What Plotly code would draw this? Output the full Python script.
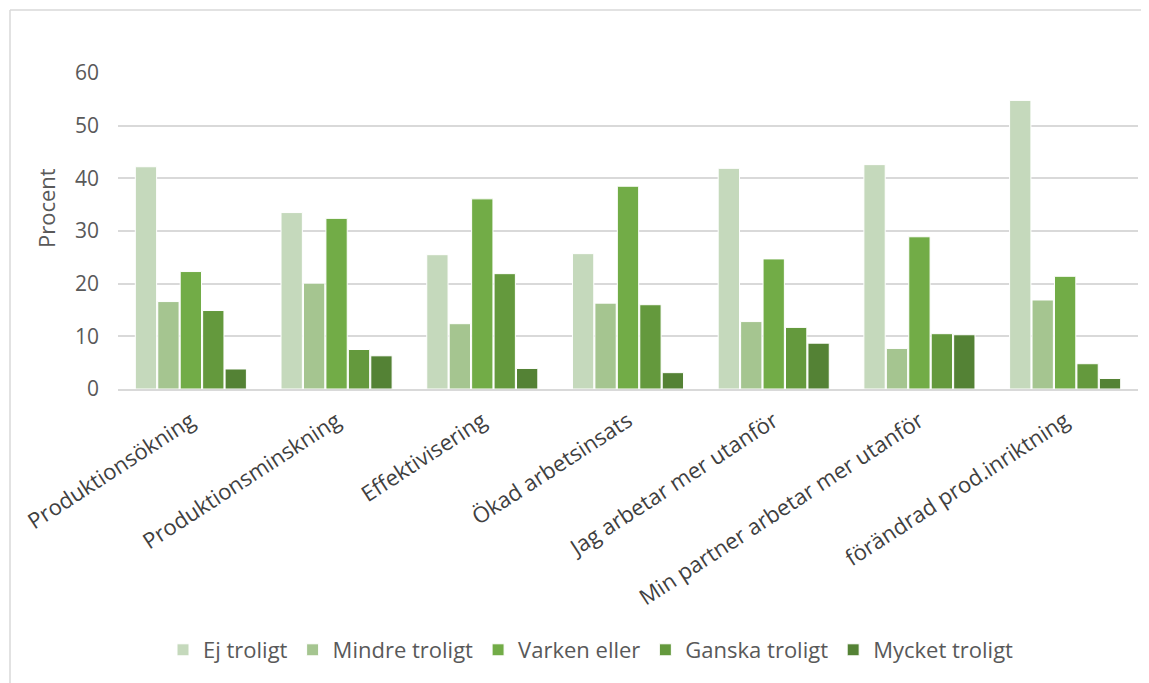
import plotly.graph_objects as go

categories = ["Produktionsökning", "Produktionsminskning", "Effektivisering",
              "Ökad arbetsinsats", "Jag arbetar mer utanför",
              "Min partner arbetar mer utanför", "förändrad prod.inriktning"]
series_names = ["Ej troligt", "Mindre troligt", "Varken eller", "Ganska troligt", "Mycket troligt"]
ej_troligt = [42.2, 33.5, 25.5, 25.7, 41.9, 42.6, 54.8]
mindre_troligt = [16.6, 20.1, 12.4, 16.3, 12.8, 7.7, 16.9]
varken_eller = [22.3, 32.4, 36.1, 38.5, 24.7, 28.9, 21.4]
ganska_troligt = [14.9, 7.5, 21.9, 16.0, 11.7, 10.5, 4.8]
mycket_troligt = [3.8, 6.3, 3.9, 3.1, 8.7, 10.3, 2.0]
colors = ["#C5D9BC", "#A5C590", "#72AC47", "#64993D", "#548235"]
y_ticks = [0, 10, 20, 30, 40, 50, 60]

series_values = [ej_troligt, mindre_troligt, varken_eller, ganska_troligt, mycket_troligt]

font = "Open Sans, sans-serif"

fig = go.Figure()
for name, vals, col in zip(series_names, series_values, colors):
    fig.add_trace(go.Bar(
        x=categories, y=vals, name=name,
        marker=dict(color=col, line=dict(color="white", width=1)),
    ))

# page has an 8px body margin: figure coordinates = reference pixels - 8
OFF = 8
W, H = 1149 - OFF, 683 - OFF
L, T = 118 - OFF, 73 - OFF
PR, PB = 1138 - OFF, 389 - OFF
R, B = W - PR, H - PB
pw, ph = PR - L, PB - T

def px_x(x):
    return (x - OFF - L) / pw

def px_y(y):
    return (PB - (y - OFF)) / ph

fig.update_layout(
    width=W, height=H,
    margin=dict(l=L, r=R, t=T, b=B),
    paper_bgcolor="white", plot_bgcolor="white",
    barmode="group", bargap=0.23, bargroupgap=0.05,
    showlegend=True,
    legend=dict(orientation="h", x=px_x(591), xanchor="center", y=px_y(650), yanchor="middle",
                font=dict(family=font, size=22, color="#595959"),
                itemwidth=30, tracegroupgap=0, traceorder="normal"),
    xaxis=dict(tickangle=-33, tickfont=dict(family=font, size=22, color="#404040"),
               showgrid=False, showline=True, linecolor="#d9d9d9", linewidth=1.5,
               ticks="", fixedrange=True, ticklabelstandoff=9),
    yaxis=dict(range=[0, 60], tickvals=y_ticks, showgrid=True, gridcolor="#d9d9d9", gridwidth=1.5,
               zeroline=False, showline=False,
               tickfont=dict(family=font, size=21, color="#595959"),
               ticklabelstandoff=18),
    shapes=[
        dict(type="line", xref="paper", yref="paper", x0=px_x(10), x1=px_x(1170),
             y0=px_y(10), y1=px_y(10), line=dict(color="#d9d9d9", width=1.5)),
        dict(type="line", xref="paper", yref="paper", x0=px_x(10), x1=px_x(10),
             y0=px_y(10), y1=px_y(700), line=dict(color="#d9d9d9", width=1.5)),
    ],
    annotations=[
        dict(text="Procent", xref="paper", yref="paper", x=px_x(46), y=px_y(208),
             textangle=-90, showarrow=False, xanchor="center", yanchor="middle",
             font=dict(family=font, size=22, color="#595959")),
    ],
)

fig.write_html("out.html")
